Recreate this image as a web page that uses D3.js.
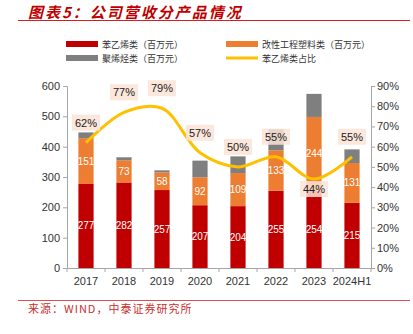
<!DOCTYPE html>
<html>
<head>
<meta charset="utf-8">
<script src="https://cdn.jsdelivr.net/npm/d3@7"></script>
<style>
  body { margin: 0; background: #fff; }
  svg { display: block; font-family: Arial, "Liberation Sans", sans-serif; }
</style>
</head>
<body>
<div id="chart"></div>
<script>
var years = ["2017", "2018", "2019", "2020", "2021", "2022", "2023", "2024H1"];
var styrene = [277, 282, 257, 207, 204, 255, 254, 215];
var modified = [151, 73, 58, 92, 109, 133, 244, 131];
var polyolefin = [19, 10, 7, 55, 55, 69, 76, 45];
var styreneShare = [62, 77, 79, 57, 50, 55, 44, 55];
var leftTicks = [0, 100, 200, 300, 400, 500, 600];
var rightTicks = [0, 10, 20, 30, 40, 50, 60, 70, 80, 90];

var width = 413, height = 334;
var margin = {left: 67, right: 42, top: 86, bottom: 66};
var red = "#c00000", orange = "#ed7d31", gray = "#7f7f7f", yellow = "#ffc000";
var cjk = "'Noto Sans CJK SC', sans-serif";

var svg = d3.select("#chart").append("svg")
    .attr("width", width)
    .attr("height", height);

// title + rules
svg.append("text")
    .attr("x", 28).attr("y", 17.5)
    .attr("fill", "#c00000")
    .attr("font-family", cjk)
    .attr("font-size", 15)
    .attr("font-weight", "bold")
    .attr("font-style", "italic")
    .attr("letter-spacing", 2)
    .text("图表5：公司营收分产品情况");
svg.append("line")
    .attr("x1", 18).attr("x2", 410).attr("y1", 20.5).attr("y2", 20.5)
    .attr("stroke", "#d42020").attr("stroke-width", 1);
svg.append("line")
    .attr("x1", 18).attr("x2", 410).attr("y1", 300.5).attr("y2", 300.5)
    .attr("stroke", "#e05050").attr("stroke-width", 1);
svg.append("text")
    .attr("x", 28).attr("y", 313)
    .attr("fill", "#c83030")
    .attr("font-family", cjk)
    .attr("font-size", 11)
    .attr("letter-spacing", 1)
    .text("来源：WIND，中泰证券研究所");

var x = d3.scaleBand()
    .domain(years)
    .range([margin.left, width - margin.right])
    .paddingInner(0.6)
    .paddingOuter(0.3);
var y = d3.scaleLinear().domain([0, 600]).range([height - margin.bottom, margin.top]);
var y2 = d3.scaleLinear().domain([0, 90]).range([height - margin.bottom, margin.top]);

// axes
var axisColor = "#a6a6a6";
var gLeft = svg.append("g")
    .attr("transform", "translate(" + margin.left + ",0)")
    .call(d3.axisLeft(y).tickValues(leftTicks).tickSize(4).tickPadding(3));
var gRight = svg.append("g")
    .attr("transform", "translate(" + (width - margin.right) + ",0)")
    .call(d3.axisRight(y2).tickValues(rightTicks).tickSize(4).tickPadding(2)
      .tickFormat(function(d) { return d + "%"; }));
[gLeft, gRight].forEach(function(g) {
  g.select(".domain").attr("stroke", axisColor);
  g.selectAll(".tick line").attr("stroke", axisColor);
  g.selectAll(".tick text").attr("fill", "#333").attr("font-size", 11)
      .attr("font-family", "Arial, 'Liberation Sans', sans-serif");
});

// category axis: ticks sit between the categories
var gx = svg.append("g");
gx.append("line")
    .attr("x1", margin.left).attr("x2", width - margin.right)
    .attr("y1", y(0) + 0.5).attr("y2", y(0) + 0.5)
    .attr("stroke", axisColor);
var tickXs = d3.range(years.length + 1).map(function(i) {
  return margin.left + i * (width - margin.left - margin.right) / years.length;
});
gx.selectAll("line.tk").data(tickXs).enter().append("line")
    .attr("class", "tk")
    .attr("x1", function(d) { return d; }).attr("x2", function(d) { return d; })
    .attr("y1", y(0)).attr("y2", y(0) + 4)
    .attr("stroke", axisColor);
gx.selectAll("text").data(years).enter().append("text")
    .attr("x", function(d) { return x(d) + x.bandwidth() / 2; })
    .attr("y", y(0) + 17)
    .attr("text-anchor", "middle")
    .attr("fill", "#333")
    .attr("font-size", 11)
    .text(function(d) { return d; });

// stacked bars
var rows = years.map(function(d, i) {
  return {year: d, styrene: styrene[i], modified: modified[i], polyolefin: polyolefin[i]};
});
var keys = ["styrene", "modified", "polyolefin"];
var colors = {styrene: red, modified: orange, polyolefin: gray};
var series = d3.stack().keys(keys)(rows);

var layers = svg.selectAll("g.layer").data(series).enter().append("g")
    .attr("class", "layer")
    .attr("fill", function(s) { return colors[s.key]; });
layers.selectAll("rect").data(function(s) { return s; }).enter().append("rect")
    .attr("x", function(d) { return x(d.data.year); })
    .attr("width", x.bandwidth())
    .attr("y", function(d) { return y(d[1]); })
    .attr("height", function(d) { return y(d[0]) - y(d[1]); });

// value labels for the two lower segments
series.slice(0, 2).forEach(function(s) {
  svg.append("g").selectAll("text").data(s).enter().append("text")
      .attr("x", function(d) { return x(d.data.year) + x.bandwidth() / 2; })
      .attr("y", function(d) { return (y(d[0]) + y(d[1])) / 2 + 3.5; })
      .attr("text-anchor", "middle")
      .attr("fill", "#fff")
      .attr("font-size", 10)
      .text(function(d) { return d[1] - d[0]; });
});

// share line
var pts = years.map(function(d, i) {
  return [x(d) + x.bandwidth() / 2, y2(styreneShare[i])];
});
svg.append("path")
    .attr("d", d3.line().curve(d3.curveCatmullRom.alpha(0.5))(pts))
    .attr("fill", "none")
    .attr("stroke", yellow)
    .attr("stroke-width", 3);

var lab = svg.append("g").selectAll("g").data(pts).enter().append("g")
    .attr("transform", function(d, i) {
      var dy = years[i] === "2023" ? 10 : -20;
      return "translate(" + d[0] + "," + (d[1] + dy) + ")";
    });
lab.append("rect")
    .attr("x", -14).attr("y", -8).attr("width", 28).attr("height", 16)
    .attr("fill", "#fbe3d6").attr("fill-opacity", 0.85);
lab.append("text")
    .attr("text-anchor", "middle")
    .attr("y", 4)
    .attr("fill", "#222")
    .attr("font-size", 11)
    .text(function(d, i) { return styreneShare[i] + "%"; });

// legend
var legend = [
  {name: "苯乙烯类（百万元）", color: red, type: "rect", x: 66, y: 44},
  {name: "改性工程塑料类（百万元）", color: orange, type: "rect", x: 226, y: 44},
  {name: "聚烯烃类（百万元）", color: gray, type: "rect", x: 66, y: 58},
  {name: "苯乙烯类占比", color: yellow, type: "line", x: 226, y: 58}
];
var lg = svg.append("g").selectAll("g").data(legend).enter().append("g")
    .attr("transform", function(d) { return "translate(" + d.x + "," + d.y + ")"; });
lg.append("rect")
    .attr("x", 0)
    .attr("y", function(d) { return d.type === "rect" ? -3 : -1.5; })
    .attr("width", 32)
    .attr("height", function(d) { return d.type === "rect" ? 6 : 3; })
    .attr("fill", function(d) { return d.color; });
lg.append("text")
    .attr("x", 36).attr("y", 3.5)
    .attr("fill", "#333")
    .attr("font-family", cjk)
    .attr("font-size", 9)
    .text(function(d) { return d.name; });
</script>
</body>
</html>
